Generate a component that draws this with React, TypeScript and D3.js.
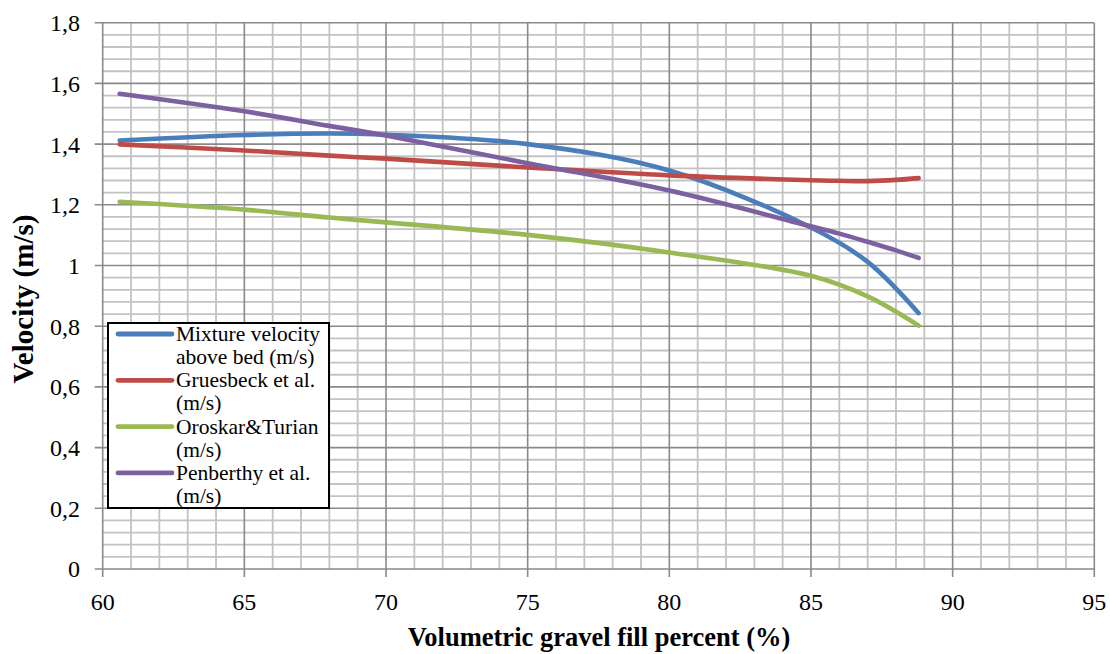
import React from "react";
import * as d3 from "d3";

const xCommon = [60.6, 65, 68, 70, 75, 80, 85, 86, 87, 88, 88.8];
const xSteep = [60.6, 65, 68, 70, 75, 80, 85, 87, 88.8];
const mixture = [1.412, 1.43, 1.435, 1.431, 1.4, 1.313, 1.125, 1.012, 0.843];
const gruesbeck = [1.399, 1.379, 1.362, 1.352, 1.323, 1.297, 1.281, 1.279, 1.278, 1.282, 1.288];
const oroskar = [1.21, 1.184, 1.158, 1.142, 1.101, 1.043, 0.966, 0.898, 0.802];
const penberthy = [1.566, 1.508, 1.46, 1.428, 1.337, 1.247, 1.129, 1.105, 1.078, 1.05, 1.025];

const seriesNames = [
  ["Mixture velocity", "above bed (m/s)"],
  ["Gruesbeck et al.", "(m/s)"],
  ["Oroskar&Turian", "(m/s)"],
  ["Penberthy et al.", "(m/s)"],
];
const seriesColors = ["#4a7ebb", "#be4b48", "#98b954", "#7d60a0"];
const seriesValues = [mixture, gruesbeck, oroskar, penberthy];
const seriesX = [xSteep, xCommon, xSteep, xCommon];

const xTicks = [60, 65, 70, 75, 80, 85, 90, 95];
const yTicks = [0, 0.2, 0.4, 0.6, 0.8, 1, 1.2, 1.4, 1.6, 1.8];

export default function App() {
  const W = 1110, H = 654;
  const x = d3.scaleLinear().domain([60, 95]).range([102.7, 1094.3]);
  const y = d3.scaleLinear().domain([0, 1.8]).range([569, 22.7]);
  const font = "Liberation Serif, Times New Roman, serif";

  const minorX = d3.range(60, 95.5, 1).filter((v) => v % 5 !== 0);
  const minorY = d3.range(0, 1.8001, 0.04).map((v) => Math.round(v * 100) / 100).filter((v) => Math.abs(v / 0.2 - Math.round(v / 0.2)) > 1e-6);

  const makeLine = (xs: number[]) =>
    d3
      .line<number>()
      .x((_, i) => x(xs[i]))
      .y((d) => y(d))
      .curve(d3.curveCatmullRom.alpha(0.5));

  const fmt = (v: number) => (v === 0 || v === 1 ? String(v) : v.toFixed(1).replace(".", ","));

  const lgX = 108, lgY = 323, lgW = 221, lgH = 185;

  return (
    <svg width={W} height={H} style={{ position: "absolute", left: 0, top: 0, background: "#fff" }} fontFamily={font}>
      <rect x={0} y={0} width={W} height={H} fill="#fff" />
      {minorX.map((v) => (
        <line key={"mx" + v} x1={x(v)} x2={x(v)} y1={y(1.8)} y2={y(0)} stroke="#c3c3c3" strokeWidth={1.8} />
      ))}
      {minorY.map((v) => (
        <line key={"my" + v} x1={x(60)} x2={x(95)} y1={y(v)} y2={y(v)} stroke="#c3c3c3" strokeWidth={1.8} />
      ))}
      {xTicks.map((v) => (
        <line key={"Mx" + v} x1={x(v)} x2={x(v)} y1={y(1.8)} y2={y(0) + 8} stroke="#8a8a8a" strokeWidth={1.6} />
      ))}
      {yTicks.map((v) => (
        <line key={"My" + v} x1={x(60) - 8} x2={x(95)} y1={y(v)} y2={y(v)} stroke="#8a8a8a" strokeWidth={1.6} />
      ))}
      {yTicks.map((v) => (
        <text key={"ty" + v} x={80} y={y(v)} dy="0.35em" textAnchor="end" fontSize={24} fill="#000">
          {fmt(v)}
        </text>
      ))}
      {xTicks.map((v) => (
        <text key={"tx" + v} x={x(v)} y={610} textAnchor="middle" fontSize={24} fill="#000">
          {v}
        </text>
      ))}
      <text x={599} y={646} textAnchor="middle" fontSize={26.5} fontWeight="bold" fill="#000">
        Volumetric gravel fill percent (%)
      </text>
      <text transform={`translate(33,299) rotate(-90)`} textAnchor="middle" fontSize={29} fontWeight="bold" fill="#000">
        Velocity (m/s)
      </text>
      {seriesValues.map((vals, i) => (
        <path key={"s" + i} d={makeLine(seriesX[i])(vals) || ""} fill="none" stroke={seriesColors[i]} strokeWidth={4.6} strokeLinecap="round" strokeLinejoin="round" />
      ))}
      <rect x={lgX} y={lgY} width={lgW} height={lgH} fill="#fff" stroke="#000" strokeWidth={2} />
      {seriesNames.map((names, i) => {
        const cy = 334 + i * 46.3;
        return (
          <g key={"lg" + i}>
            <line x1={118} x2={172} y1={cy} y2={cy} stroke={seriesColors[i]} strokeWidth={4.8} strokeLinecap="round" />
            <text x={176} y={cy + 7} fontSize={21.5} fill="#000">{names[0]}</text>
            <text x={176} y={cy + 30} fontSize={21.5} fill="#000">{names[1]}</text>
          </g>
        );
      })}
    </svg>
  );
}
